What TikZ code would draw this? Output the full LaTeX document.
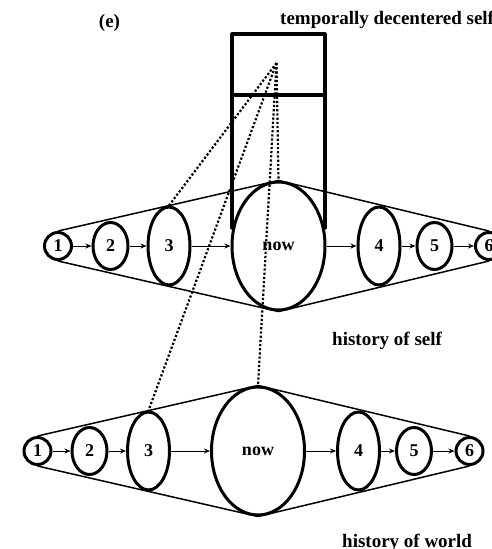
\documentclass[tikz,border=0pt]{standalone}
\usepackage{fontspec}
\setmainfont{Liberation Serif}
\usetikzlibrary{shapes.geometric,arrows.meta}
\begin{document}
\begin{tikzpicture}[x=1pt,y=-1pt,
  stage/.style={ellipse,draw,line width=3pt,fill=white,inner sep=0pt,
    font=\fontsize{18}{20}\selectfont\bfseries},
  tiny/.style={stage,minimum width=27pt,minimum height=27pt},
  small/.style={stage,minimum width=35pt,minimum height=47pt},
  mid/.style={stage,minimum width=42pt,minimum height=78pt},
  big/.style={stage,minimum width=93pt,minimum height=128pt},
  flow/.style={line width=1pt,-{Stealth[length=6pt,width=5pt]}},
  hull/.style={line width=1.5pt},
  gaze/.style={line width=2.2pt,dash pattern=on 2.2pt off 2pt},
  frame/.style={line width=3.2pt,line join=round,line cap=round},
  caption/.style={font=\fontsize{19}{22}\selectfont\bfseries,inner sep=0pt}]
\useasboundingbox (0,0) rectangle (492,549);
\clip (0,0) rectangle (492,549);

% captions
\node[caption,anchor=base] (tag) at (109.5,27) {(e)};
\node[caption,anchor=base west] (selfcap) at (280,24) {temporally decentered self};
\node[caption,anchor=base west] (histself) at (332,345) {history of self};
\node[caption,anchor=base west] (histworld) at (342,547) {history of world};

% self frame
\draw[frame] (232,228) -- (232,34) -- (325,34) -- (325,228);
\draw[frame] (232,95) -- (325,95);
\coordinate (eye) at (276.5,63);

% history of self
\node[tiny]  (u1)   at (58,246)    {1};
\node[small] (u2)   at (110.5,246) {2};
\node[mid]   (u3)   at (169,246)   {3};
\node[big]   (unow) at (278.5,246) {now};
\node[mid]   (u4)   at (379,246)   {4};
\node[small] (u5)   at (434.5,246) {5};
\node[tiny]  (u6)   at (489,246)   {6};

\draw[hull] (u1.north) -- (unow.north) -- (u6.north);
\draw[hull] (u1.south) -- (unow.south) -- (u6.south);
\draw[flow] (u1) -- (u2);
\draw[flow] (u2) -- (u3);
\draw[flow] (u3) -- (unow);
\draw[flow] (unow) -- (u4);
\draw[flow] (u4) -- (u5);
\draw[flow] (u5) -- (u6);

% history of world
\node[tiny]  (w1)   at (37.5,451)  {1};
\node[small] (w2)   at (89.5,451)  {2};
\node[mid]   (w3)   at (148.5,451) {3};
\node[big]   (wnow) at (258,451)   {now};
\node[mid]   (w4)   at (358.5,451) {4};
\node[small] (w5)   at (414,451)   {5};
\node[tiny]  (w6)   at (469.5,451) {6};

\draw[hull] (w1.north) -- (wnow.north) -- (w6.north);
\draw[hull] (w1.south) -- (wnow.south) -- (w6.south);
\draw[flow] (w1) -- (w2);
\draw[flow] (w2) -- (w3);
\draw[flow] (w3) -- (wnow);
\draw[flow] (wnow) -- (w4);
\draw[flow] (w4) -- (w5);
\draw[flow] (w5) -- (w6);

% lines of regard from the self
\draw[gaze] (eye) -- (u3.north);
\draw[gaze] (eye) -- (unow.north);
\draw[gaze] (eye) -- (w3.north);
\draw[gaze] (eye) -- (wnow.north);
\end{tikzpicture}
\end{document}
